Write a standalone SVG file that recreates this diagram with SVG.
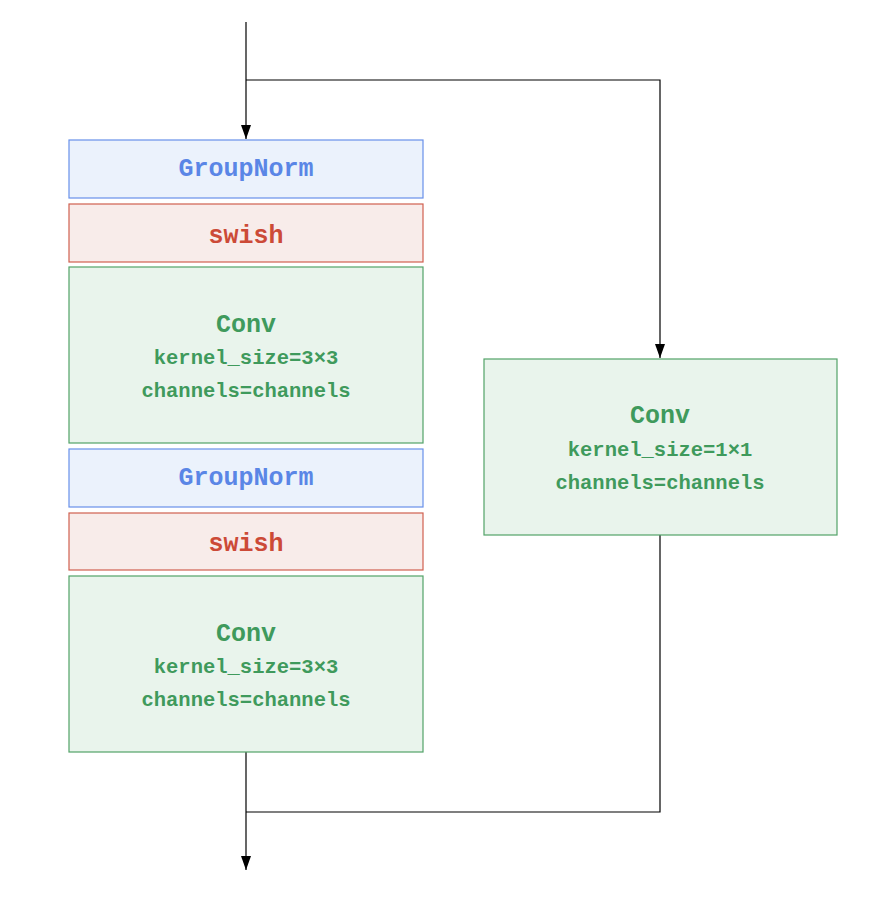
<svg xmlns="http://www.w3.org/2000/svg" width="870" height="912" viewBox="0 0 870 912">
<defs>
<marker id="arr" viewBox="0 0 14 12" refX="14" refY="6" markerWidth="14" markerHeight="12" markerUnits="userSpaceOnUse" orient="auto">
<path d="M0,1 L14,6 L0,11 Z" fill="#000"/>
</marker>
<style>
.b{fill:#ebf2fc;stroke:#6890ea;stroke-width:1.2}
.r{fill:#f8ecea;stroke:#d0604f;stroke-width:1.2}
.g{fill:#e9f4ec;stroke:#52a268;stroke-width:1.2}
text{font-family:"Liberation Mono","DejaVu Sans Mono",monospace;font-weight:bold;text-anchor:middle}
.tb{fill:#5a86e6;font-size:25px}
.tr{fill:#cc4a37;font-size:25px}
.tg{fill:#3f9a5c;font-size:25px}
.ts{fill:#3f9a5c;font-size:20.5px}
.c{fill:none;stroke:#000;stroke-width:1.2}
</style>
</defs>
<g id="connectors">
<path class="c" d="M246,22 V139" marker-end="url(#arr)"/>
<path class="c" d="M246,80 H660 V358" marker-end="url(#arr)"/>
<path class="c" d="M660,535 V812 H246"/>
<path class="c" d="M246,752 V870" marker-end="url(#arr)"/>
</g>
<g id="groupnorm1"><rect class="b" x="69" y="140" width="354" height="58"/><text class="tb" x="246" y="176">GroupNorm</text></g>
<g id="swish1"><rect class="r" x="69" y="204" width="354" height="58"/><text class="tr" x="246" y="243">swish</text></g>
<g id="conv1"><rect class="g" x="69" y="267" width="354" height="176"/><text class="tg" x="246" y="332">Conv</text><text class="ts" x="246" y="364">kernel_size=3×3</text><text class="ts" x="246" y="397">channels=channels</text></g>
<g id="groupnorm2"><rect class="b" x="69" y="449" width="354" height="58"/><text class="tb" x="246" y="485">GroupNorm</text></g>
<g id="swish2"><rect class="r" x="69" y="513" width="354" height="57"/><text class="tr" x="246" y="551">swish</text></g>
<g id="conv2"><rect class="g" x="69" y="576" width="354" height="176"/><text class="tg" x="246" y="641">Conv</text><text class="ts" x="246" y="673">kernel_size=3×3</text><text class="ts" x="246" y="706">channels=channels</text></g>
<g id="conv_skip"><rect class="g" x="484" y="359" width="353" height="176"/><text class="tg" x="660" y="423">Conv</text><text class="ts" x="660" y="456">kernel_size=1×1</text><text class="ts" x="660" y="489">channels=channels</text></g>
</svg>
